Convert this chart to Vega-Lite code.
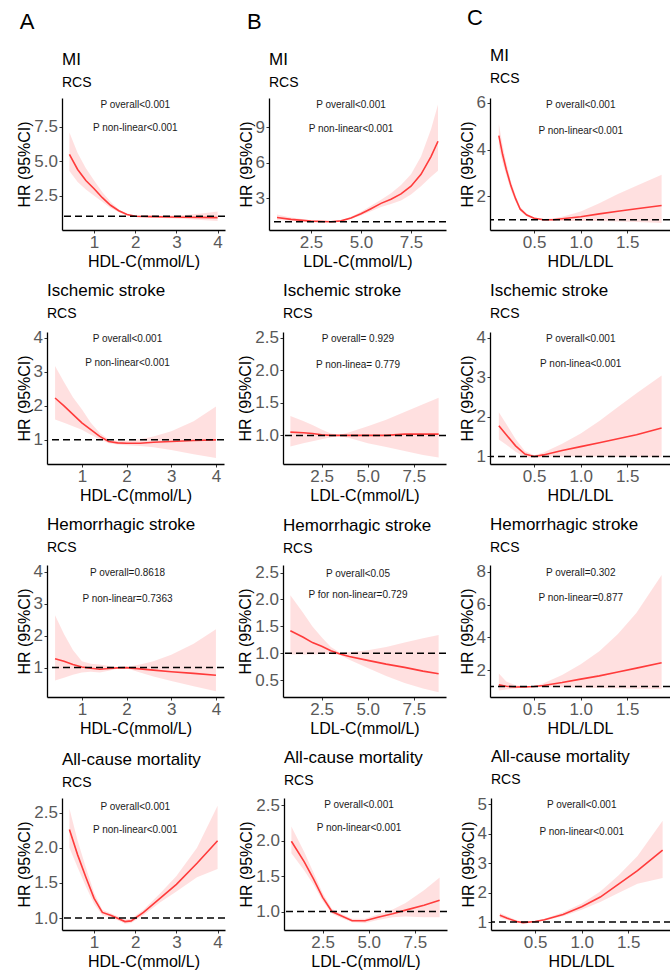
{
 "$schema": "https://vega.github.io/schema/vega-lite/v6.json",
 "background": "white",
 "padding": {"left": 9, "top": 6, "right": 0, "bottom": 0},
 "spacing": 11,
 "config": {
  "view": {"stroke": null},
  "font": "Liberation Sans",
  "axis": {"grid": false, "minExtent": 0, "domainColor": "black", "domainWidth": 1.3, "tickColor": "#333333", "tickSize": 3, "labelFontSize": 17, "labelColor": "#595959", "labelFlush": false, "labelOverlap": false, "labelBound": false, "labelPadding": 1.5, "titleFontSize": 16, "titleFontWeight": "normal", "titleColor": "black", "titlePadding": 3},
  "axisY": {"minExtent": 0, "titlePadding": 1},
  "title": {"anchor": "start", "frame": "group", "fontSize": 17, "fontWeight": "normal", "color": "black", "subtitleFontSize": 14, "subtitleColor": "black", "subtitlePadding": 7, "offset": 7},
  "area": {"color": "#FF0000", "opacity": 0.12},
  "line": {"color": "#FF3B3B", "strokeWidth": 1.6},
  "rule": {"color": "black", "strokeWidth": 1.5, "strokeDash": [7, 4]},
  "text": {"fontSize": 10, "color": "#1a1a1a", "align": "center", "baseline": "middle"}
 },
 "vconcat": [
  {
   "spacing": 0,
   "hconcat": [
    {"width": 1, "height": 1, "data": {"values": [{}]}, "mark": {"type": "point", "opacity": 0}, "encoding": {}},
    {
     "spacing": 12,
     "hconcat": [
      {
       "title": {"text": "A", "fontSize": 22, "frame": "bounds", "offset": 17, "dx": 3},
       "vconcat": [
        {
         "width": 163, "height": 132,
         "title": {"text": "MI", "subtitle": "RCS"},
         "data": {"values": [
          {"x":0.4,"hr":5.5,"lo":4.3,"hi":7.1},{"x":0.6,"hr":4.4,"lo":3.5,"hi":5.6},{"x":0.8,"hr":3.6,"lo":2.95,"hi":4.5},{"x":1.0,"hr":3.0,"lo":2.5,"hi":3.6},{"x":1.2,"hr":2.35,"lo":2.05,"hi":2.75},{"x":1.4,"hr":1.8,"lo":1.6,"hi":2.05},{"x":1.6,"hr":1.4,"lo":1.3,"hi":1.5},{"x":1.8,"hr":1.13,"lo":1.06,"hi":1.2},{"x":2.0,"hr":1.0,"lo":0.95,"hi":1.05},{"x":2.4,"hr":0.97,"lo":0.9,"hi":1.05},{"x":2.8,"hr":0.94,"lo":0.85,"hi":1.05},{"x":3.2,"hr":0.93,"lo":0.8,"hi":1.1},{"x":3.6,"hr":0.92,"lo":0.72,"hi":1.2},{"x":4.0,"hr":0.9,"lo":0.65,"hi":1.35}
         ]},
         "encoding": {"x": {"field": "x", "type": "quantitative", "scale": {"domain": [0.22, 4.18], "nice": false, "zero": false}, "axis": {"values": [1, 2, 3, 4], "format": "d", "tickCount": 20, "labelOverlap": false, "title": "HDL-C(mmol/L)"}}},
         "layer": [
          {"mark": "area", "encoding": {"y": {"field": "lo", "type": "quantitative", "title": "HR (95%CI)", "scale": {"domain": [0, 9.6], "nice": false, "zero": false}, "axis": {"values": [2.5, 5, 7.5], "tickCount": 20, "format": ".1f", "labelOverlap": false}}, "y2": {"field": "hi"}}},
          {"mark": "line", "encoding": {"y": {"field": "hr", "type": "quantitative", "title": "HR (95%CI)"}}},
          {"data": {"values": [{"ref": 1}]}, "mark": "rule", "encoding": {"x": null, "y": {"field": "ref", "type": "quantitative", "title": "HR (95%CI)"}}},
          {"data": {"values": [{"x": 2.0, "y": 9.11, "label": "P overall<0.001"}, {"x": 2.0, "y": 7.42, "label": "P non-linear<0.001"}]}, "mark": "text", "encoding": {"y": {"field": "y", "type": "quantitative", "title": "HR (95%CI)"}, "text": {"field": "label"}}}
         ]
        }
       ]
      },
      {
       "title": {"text": "B", "fontSize": 22, "frame": "bounds", "offset": 17, "dx": 9},
       "vconcat": [
        {
         "width": 177, "height": 132,
         "title": {"text": "MI", "subtitle": "RCS"},
         "data": {"values": [
          {"x":0.8,"hr":1.35,"lo":1.15,"hi":1.6},{"x":1.5,"hr":1.2,"lo":1.08,"hi":1.35},{"x":2.5,"hr":1.05,"lo":1.0,"hi":1.12},{"x":3.5,"hr":1.0,"lo":0.97,"hi":1.03},{"x":4.0,"hr":1.07,"lo":1.02,"hi":1.12},{"x":4.5,"hr":1.32,"lo":1.22,"hi":1.42},{"x":5.0,"hr":1.67,"lo":1.52,"hi":1.85},{"x":5.5,"hr":2.1,"lo":1.88,"hi":2.35},{"x":6.0,"hr":2.55,"lo":2.25,"hi":2.85},{"x":6.5,"hr":2.9,"lo":2.5,"hi":3.4},{"x":7.0,"hr":3.35,"lo":2.8,"hi":4.1},{"x":7.5,"hr":4.0,"lo":3.3,"hi":5.0},{"x":8.0,"hr":5.0,"lo":4.0,"hi":6.5},{"x":8.5,"hr":6.5,"lo":4.8,"hi":8.8},{"x":8.85,"hr":7.8,"lo":5.3,"hi":10.9}
         ]},
         "encoding": {"x": {"field": "x", "type": "quantitative", "scale": {"domain": [0.4, 9.25], "nice": false, "zero": false}, "axis": {"values": [2.5, 5, 7.5], "tickCount": 20, "format": ".1f", "labelOverlap": false, "title": "LDL-C(mmol/L)"}}},
         "layer": [
          {"mark": "area", "encoding": {"y": {"field": "lo", "type": "quantitative", "title": "HR (95%CI)", "scale": {"domain": [0.3, 11.45], "nice": false, "zero": false}, "axis": {"values": [3, 6, 9], "format": "d", "tickCount": 20, "labelOverlap": false}}, "y2": {"field": "hi"}}},
          {"mark": "line", "encoding": {"y": {"field": "hr", "type": "quantitative", "title": "HR (95%CI)"}}},
          {"data": {"values": [{"ref": 1}]}, "mark": "rule", "encoding": {"x": null, "y": {"field": "ref", "type": "quantitative", "title": "HR (95%CI)"}}},
          {"data": {"values": [{"x": 4.5, "y": 10.88, "label": "P overall<0.001"}, {"x": 4.5, "y": 8.86, "label": "P non-linear<0.001"}]}, "mark": "text", "encoding": {"y": {"field": "y", "type": "quantitative", "title": "HR (95%CI)"}, "text": {"field": "label"}}}
         ]
        }
       ]
      },
      {
       "title": {"text": "C", "fontSize": 22, "frame": "bounds", "offset": 17, "dx": 8},
       "vconcat": [
        {
         "width": 180, "height": 132,
         "title": {"text": "MI", "subtitle": "RCS"},
         "data": {"values": [
          {"x":0.12,"hr":4.6,"lo":4.15,"hi":5.1},{"x":0.16,"hr":3.8,"lo":3.45,"hi":4.2},{"x":0.2,"hr":3.15,"lo":2.9,"hi":3.45},{"x":0.25,"hr":2.45,"lo":2.25,"hi":2.65},{"x":0.3,"hr":1.9,"lo":1.78,"hi":2.05},{"x":0.35,"hr":1.45,"lo":1.37,"hi":1.55},{"x":0.42,"hr":1.2,"lo":1.14,"hi":1.26},{"x":0.5,"hr":1.06,"lo":1.02,"hi":1.1},{"x":0.6,"hr":1.0,"lo":0.97,"hi":1.03},{"x":0.7,"hr":1.0,"lo":0.96,"hi":1.05},{"x":0.8,"hr":1.04,"lo":0.95,"hi":1.13},{"x":1.0,"hr":1.13,"lo":0.95,"hi":1.35},{"x":1.2,"hr":1.25,"lo":0.94,"hi":1.7},{"x":1.4,"hr":1.36,"lo":0.92,"hi":2.1},{"x":1.6,"hr":1.47,"lo":0.9,"hi":2.45},{"x":1.87,"hr":1.61,"lo":0.86,"hi":2.93}
         ]},
         "encoding": {"x": {"field": "x", "type": "quantitative", "scale": {"domain": [0.025, 1.96], "nice": false, "zero": false}, "axis": {"values": [0.5, 1, 1.5], "tickCount": 20, "format": ".1f", "labelOverlap": false, "title": "HDL/LDL"}}},
         "layer": [
          {"mark": "area", "encoding": {"y": {"field": "lo", "type": "quantitative", "title": "HR (95%CI)", "scale": {"domain": [0.56, 6.21], "nice": false, "zero": false}, "axis": {"values": [2, 4, 6], "format": "d", "tickCount": 20, "labelOverlap": false}}, "y2": {"field": "hi"}}},
          {"mark": "line", "encoding": {"y": {"field": "hr", "type": "quantitative", "title": "HR (95%CI)"}}},
          {"data": {"values": [{"ref": 1}]}, "mark": "rule", "encoding": {"x": null, "y": {"field": "ref", "type": "quantitative", "title": "HR (95%CI)"}}},
          {"data": {"values": [{"x": 1.0, "y": 5.92, "label": "P overall<0.001"}, {"x": 1.0, "y": 4.81, "label": "P non-linear<0.001"}]}, "mark": "text", "encoding": {"y": {"field": "y", "type": "quantitative", "title": "HR (95%CI)"}, "text": {"field": "label"}}}
         ]
        }
       ]
      }
     ]
    }
   ]
  },
  {
   "spacing": 0,
   "hconcat": [
    {"width": 1, "height": 1, "data": {"values": [{}]}, "mark": {"type": "point", "opacity": 0}, "encoding": {}},
    {
     "spacing": 12,
     "hconcat": [
      {
       "width": 177, "height": 132,
       "title": {"text": "Ischemic stroke", "subtitle": "RCS"},
       "data": {"values": [
        {"x":0.4,"hr":2.23,"lo":1.6,"hi":3.17},{"x":0.6,"hr":2.0,"lo":1.5,"hi":2.7},{"x":0.8,"hr":1.75,"lo":1.4,"hi":2.25},{"x":1.0,"hr":1.5,"lo":1.3,"hi":1.9},{"x":1.2,"hr":1.3,"lo":1.15,"hi":1.5},{"x":1.4,"hr":1.1,"lo":1.02,"hi":1.2},{"x":1.6,"hr":0.95,"lo":0.9,"hi":1.02},{"x":1.8,"hr":0.91,"lo":0.86,"hi":0.97},{"x":2.0,"hr":0.9,"lo":0.84,"hi":0.98},{"x":2.3,"hr":0.9,"lo":0.82,"hi":1.02},{"x":2.6,"hr":0.93,"lo":0.78,"hi":1.1},{"x":3.0,"hr":0.95,"lo":0.7,"hi":1.25},{"x":3.5,"hr":0.98,"lo":0.58,"hi":1.55},{"x":4.0,"hr":1.0,"lo":0.47,"hi":1.98}
       ]},
       "encoding": {"x": {"field": "x", "type": "quantitative", "scale": {"domain": [0.22, 4.18], "nice": false, "zero": false}, "axis": {"values": [1, 2, 3, 4], "format": "d", "tickCount": 20, "labelOverlap": false, "title": "HDL-C(mmol/L)"}}},
       "layer": [
        {"mark": "area", "encoding": {"y": {"field": "lo", "type": "quantitative", "title": "HR (95%CI)", "scale": {"domain": [0.29, 4.17], "nice": false, "zero": false}, "axis": {"values": [1, 2, 3, 4], "format": "d", "tickCount": 20, "labelOverlap": false}}, "y2": {"field": "hi"}}},
        {"mark": "line", "encoding": {"y": {"field": "hr", "type": "quantitative", "title": "HR (95%CI)"}}},
        {"data": {"values": [{"ref": 1}]}, "mark": "rule", "encoding": {"x": null, "y": {"field": "ref", "type": "quantitative", "title": "HR (95%CI)"}}},
        {"data": {"values": [{"x": 2.02, "y": 3.95, "label": "P overall<0.001"}, {"x": 2.02, "y": 3.27, "label": "P non-linear<0.001"}]}, "mark": "text", "encoding": {"y": {"field": "y", "type": "quantitative", "title": "HR (95%CI)"}, "text": {"field": "label"}}}
       ]
      },
      {
       "width": 163, "height": 132,
       "title": {"text": "Ischemic stroke", "subtitle": "RCS"},
       "data": {"values": [
        {"x":0.8,"hr":1.05,"lo":0.83,"hi":1.3},{"x":1.5,"hr":1.04,"lo":0.88,"hi":1.22},{"x":2.0,"hr":1.03,"lo":0.91,"hi":1.16},{"x":2.5,"hr":1.01,"lo":0.94,"hi":1.09},{"x":3.0,"hr":1.0,"lo":0.97,"hi":1.03},{"x":3.5,"hr":1.0,"lo":0.99,"hi":1.01},{"x":4.0,"hr":1.0,"lo":0.96,"hi":1.05},{"x":5.0,"hr":1.0,"lo":0.88,"hi":1.14},{"x":6.0,"hr":1.0,"lo":0.82,"hi":1.24},{"x":7.0,"hr":1.02,"lo":0.76,"hi":1.36},{"x":8.0,"hr":1.02,"lo":0.7,"hi":1.48},{"x":8.85,"hr":1.02,"lo":0.66,"hi":1.58}
       ]},
       "encoding": {"x": {"field": "x", "type": "quantitative", "scale": {"domain": [0.4, 9.25], "nice": false, "zero": false}, "axis": {"values": [2.5, 5, 7.5], "tickCount": 20, "format": ".1f", "labelOverlap": false, "title": "LDL-C(mmol/L)"}}},
       "layer": [
        {"mark": "area", "encoding": {"y": {"field": "lo", "type": "quantitative", "title": "HR (95%CI)", "scale": {"domain": [0.56, 2.59], "nice": false, "zero": false}, "axis": {"values": [1, 1.5, 2, 2.5], "tickCount": 20, "format": ".1f", "labelOverlap": false}}, "y2": {"field": "hi"}}},
        {"mark": "line", "encoding": {"y": {"field": "hr", "type": "quantitative", "title": "HR (95%CI)"}}},
        {"data": {"values": [{"ref": 1}]}, "mark": "rule", "encoding": {"x": null, "y": {"field": "ref", "type": "quantitative", "title": "HR (95%CI)"}}},
        {"data": {"values": [{"x": 4.47, "y": 2.48, "label": "P overall= 0.929"}, {"x": 4.47, "y": 2.09, "label": "P non-linea= 0.779"}]}, "mark": "text", "encoding": {"y": {"field": "y", "type": "quantitative", "title": "HR (95%CI)"}, "text": {"field": "label"}}}
       ]
      },
      {
       "width": 180, "height": 132,
       "title": {"text": "Ischemic stroke", "subtitle": "RCS"},
       "data": {"values": [
        {"x":0.12,"hr":1.78,"lo":1.43,"hi":2.12},{"x":0.2,"hr":1.55,"lo":1.3,"hi":1.82},{"x":0.3,"hr":1.27,"lo":1.12,"hi":1.44},{"x":0.4,"hr":1.06,"lo":0.99,"hi":1.14},{"x":0.5,"hr":1.0,"lo":0.97,"hi":1.03},{"x":0.6,"hr":1.04,"lo":0.99,"hi":1.1},{"x":0.8,"hr":1.15,"lo":1.0,"hi":1.32},{"x":1.0,"hr":1.25,"lo":1.0,"hi":1.58},{"x":1.2,"hr":1.35,"lo":1.0,"hi":1.9},{"x":1.4,"hr":1.45,"lo":0.99,"hi":2.25},{"x":1.6,"hr":1.55,"lo":0.99,"hi":2.6},{"x":1.87,"hr":1.72,"lo":0.98,"hi":3.05}
       ]},
       "encoding": {"x": {"field": "x", "type": "quantitative", "scale": {"domain": [0.025, 1.96], "nice": false, "zero": false}, "axis": {"values": [0.5, 1, 1.5], "tickCount": 20, "format": ".1f", "labelOverlap": false, "title": "HDL/LDL"}}},
       "layer": [
        {"mark": "area", "encoding": {"y": {"field": "lo", "type": "quantitative", "title": "HR (95%CI)", "scale": {"domain": [0.81, 4.15], "nice": false, "zero": false}, "axis": {"values": [1, 2, 3, 4], "format": "d", "tickCount": 20, "labelOverlap": false}}, "y2": {"field": "hi"}}},
        {"mark": "line", "encoding": {"y": {"field": "hr", "type": "quantitative", "title": "HR (95%CI)"}}},
        {"data": {"values": [{"ref": 1}]}, "mark": "rule", "encoding": {"x": null, "y": {"field": "ref", "type": "quantitative", "title": "HR (95%CI)"}}},
        {"data": {"values": [{"x": 1.0, "y": 3.98, "label": "P overall<0.001"}, {"x": 1.0, "y": 3.35, "label": "P non-linea<0.001"}]}, "mark": "text", "encoding": {"y": {"field": "y", "type": "quantitative", "title": "HR (95%CI)"}, "text": {"field": "label"}}}
       ]
      }
     ]
    }
   ]
  },
  {
   "spacing": 0,
   "hconcat": [
    {"width": 1, "height": 1, "data": {"values": [{}]}, "mark": {"type": "point", "opacity": 0}, "encoding": {}},
    {
     "spacing": 12,
     "hconcat": [
      {
       "width": 177, "height": 132,
       "title": {"text": "Hemorrhagic stroke", "subtitle": "RCS"},
       "data": {"values": [
        {"x":0.4,"hr":1.28,"lo":0.6,"hi":2.64},{"x":0.6,"hr":1.2,"lo":0.68,"hi":2.05},{"x":0.8,"hr":1.1,"lo":0.78,"hi":1.55},{"x":1.0,"hr":1.02,"lo":0.85,"hi":1.2},{"x":1.2,"hr":0.98,"lo":0.87,"hi":1.12},{"x":1.4,"hr":0.95,"lo":0.85,"hi":1.1},{"x":1.6,"hr":0.97,"lo":0.9,"hi":1.05},{"x":1.8,"hr":0.99,"lo":0.96,"hi":1.02},{"x":2.0,"hr":1.0,"lo":0.98,"hi":1.02},{"x":2.3,"hr":0.96,"lo":0.85,"hi":1.1},{"x":2.6,"hr":0.92,"lo":0.72,"hi":1.2},{"x":3.0,"hr":0.87,"lo":0.58,"hi":1.4},{"x":3.5,"hr":0.82,"lo":0.42,"hi":1.75},{"x":4.0,"hr":0.76,"lo":0.26,"hi":2.2}
       ]},
       "encoding": {"x": {"field": "x", "type": "quantitative", "scale": {"domain": [0.22, 4.18], "nice": false, "zero": false}, "axis": {"values": [1, 2, 3, 4], "format": "d", "tickCount": 20, "labelOverlap": false, "title": "HDL-C(mmol/L)"}}},
       "layer": [
        {"mark": "area", "encoding": {"y": {"field": "lo", "type": "quantitative", "title": "HR (95%CI)", "scale": {"domain": [0.08, 4.21], "nice": false, "zero": false}, "axis": {"values": [1, 2, 3, 4], "format": "d", "tickCount": 20, "labelOverlap": false}}, "y2": {"field": "hi"}}},
        {"mark": "line", "encoding": {"y": {"field": "hr", "type": "quantitative", "title": "HR (95%CI)"}}},
        {"data": {"values": [{"ref": 1}]}, "mark": "rule", "encoding": {"x": null, "y": {"field": "ref", "type": "quantitative", "title": "HR (95%CI)"}}},
        {"data": {"values": [{"x": 2.02, "y": 3.95, "label": "P overall=0.8618"}, {"x": 2.02, "y": 3.15, "label": "P non-linear=0.7363"}]}, "mark": "text", "encoding": {"y": {"field": "y", "type": "quantitative", "title": "HR (95%CI)"}, "text": {"field": "label"}}}
       ]
      },
      {
       "width": 163, "height": 132,
       "title": {"text": "Hemorrhagic stroke", "subtitle": "RCS"},
       "data": {"values": [
        {"x":0.8,"hr":1.42,"lo":0.98,"hi":2.08},{"x":1.5,"hr":1.3,"lo":0.98,"hi":1.75},{"x":2.0,"hr":1.2,"lo":0.98,"hi":1.5},{"x":2.5,"hr":1.13,"lo":0.99,"hi":1.3},{"x":3.0,"hr":1.05,"lo":0.99,"hi":1.12},{"x":3.5,"hr":0.99,"lo":0.97,"hi":1.01},{"x":4.0,"hr":0.94,"lo":0.88,"hi":1.02},{"x":5.0,"hr":0.87,"lo":0.73,"hi":1.06},{"x":6.0,"hr":0.8,"lo":0.58,"hi":1.12},{"x":7.0,"hr":0.74,"lo":0.45,"hi":1.2},{"x":8.0,"hr":0.67,"lo":0.35,"hi":1.28},{"x":8.85,"hr":0.62,"lo":0.28,"hi":1.34}
       ]},
       "encoding": {"x": {"field": "x", "type": "quantitative", "scale": {"domain": [0.4, 9.25], "nice": false, "zero": false}, "axis": {"values": [2.5, 5, 7.5], "tickCount": 20, "format": ".1f", "labelOverlap": false, "title": "LDL-C(mmol/L)"}}},
       "layer": [
        {"mark": "area", "encoding": {"y": {"field": "lo", "type": "quantitative", "title": "HR (95%CI)", "scale": {"domain": [0.19, 2.64], "nice": false, "zero": false}, "axis": {"values": [0.5, 1, 1.5, 2, 2.5], "tickCount": 20, "format": ".1f", "labelOverlap": false}}, "y2": {"field": "hi"}}},
        {"mark": "line", "encoding": {"y": {"field": "hr", "type": "quantitative", "title": "HR (95%CI)"}}},
        {"data": {"values": [{"ref": 1}]}, "mark": "rule", "encoding": {"x": null, "y": {"field": "ref", "type": "quantitative", "title": "HR (95%CI)"}}},
        {"data": {"values": [{"x": 4.47, "y": 2.48, "label": "P overall<0.05"}, {"x": 4.47, "y": 2.09, "label": "P for non-linear=0.729"}]}, "mark": "text", "encoding": {"y": {"field": "y", "type": "quantitative", "title": "HR (95%CI)"}, "text": {"field": "label"}}}
       ]
      },
      {
       "width": 180, "height": 132,
       "title": {"text": "Hemorrhagic stroke", "subtitle": "RCS"},
       "data": {"values": [
        {"x":0.12,"hr":1.1,"lo":0.75,"hi":1.8},{"x":0.2,"hr":1.02,"lo":0.82,"hi":1.3},{"x":0.3,"hr":0.97,"lo":0.88,"hi":1.08},{"x":0.4,"hr":0.98,"lo":0.95,"hi":1.02},{"x":0.5,"hr":1.0,"lo":0.98,"hi":1.02},{"x":0.6,"hr":1.06,"lo":0.97,"hi":1.2},{"x":0.8,"hr":1.24,"lo":0.95,"hi":1.7},{"x":1.0,"hr":1.45,"lo":0.93,"hi":2.35},{"x":1.2,"hr":1.65,"lo":0.91,"hi":3.15},{"x":1.4,"hr":1.88,"lo":0.89,"hi":4.2},{"x":1.6,"hr":2.12,"lo":0.87,"hi":5.5},{"x":1.87,"hr":2.45,"lo":0.85,"hi":7.8}
       ]},
       "encoding": {"x": {"field": "x", "type": "quantitative", "scale": {"domain": [0.025, 1.96], "nice": false, "zero": false}, "axis": {"values": [0.5, 1, 1.5], "tickCount": 20, "format": ".1f", "labelOverlap": false, "title": "HDL/LDL"}}},
       "layer": [
        {"mark": "area", "encoding": {"y": {"field": "lo", "type": "quantitative", "title": "HR (95%CI)", "scale": {"domain": [0.36, 8.41], "nice": false, "zero": false}, "axis": {"values": [2, 4, 6, 8], "format": "d", "tickCount": 20, "labelOverlap": false}}, "y2": {"field": "hi"}}},
        {"mark": "line", "encoding": {"y": {"field": "hr", "type": "quantitative", "title": "HR (95%CI)"}}},
        {"data": {"values": [{"ref": 1}]}, "mark": "rule", "encoding": {"x": null, "y": {"field": "ref", "type": "quantitative", "title": "HR (95%CI)"}}},
        {"data": {"values": [{"x": 1.0, "y": 7.94, "label": "P overall=0.302"}, {"x": 1.0, "y": 6.37, "label": "P non-linear=0.877"}]}, "mark": "text", "encoding": {"y": {"field": "y", "type": "quantitative", "title": "HR (95%CI)"}, "text": {"field": "label"}}}
       ]
      }
     ]
    }
   ]
  },
  {
   "spacing": 0,
   "hconcat": [
    {"width": 1, "height": 1, "data": {"values": [{}]}, "mark": {"type": "point", "opacity": 0}, "encoding": {}},
    {
     "spacing": 12,
     "hconcat": [
      {
       "width": 163, "height": 132,
       "title": {"text": "All-cause mortality", "subtitle": "RCS"},
       "data": {"values": [
        {"x":0.4,"hr":2.26,"lo":2.0,"hi":2.56},{"x":0.6,"hr":1.9,"lo":1.72,"hi":2.1},{"x":0.8,"hr":1.58,"lo":1.45,"hi":1.72},{"x":1.0,"hr":1.28,"lo":1.2,"hi":1.36},{"x":1.2,"hr":1.08,"lo":1.04,"hi":1.12},{"x":1.4,"hr":1.04,"lo":1.01,"hi":1.07},{"x":1.6,"hr":0.99,"lo":0.96,"hi":1.02},{"x":1.75,"hr":0.95,"lo":0.92,"hi":0.98},{"x":1.9,"hr":0.96,"lo":0.93,"hi":0.99},{"x":2.2,"hr":1.08,"lo":1.04,"hi":1.12},{"x":2.6,"hr":1.28,"lo":1.22,"hi":1.35},{"x":3.0,"hr":1.48,"lo":1.38,"hi":1.6},{"x":3.5,"hr":1.78,"lo":1.58,"hi":2.0},{"x":4.0,"hr":2.1,"lo":1.7,"hi":2.6}
       ]},
       "encoding": {"x": {"field": "x", "type": "quantitative", "scale": {"domain": [0.22, 4.18], "nice": false, "zero": false}, "axis": {"values": [1, 2, 3, 4], "format": "d", "tickCount": 20, "labelOverlap": false, "title": "HDL-C(mmol/L)"}}},
       "layer": [
        {"mark": "area", "encoding": {"y": {"field": "lo", "type": "quantitative", "title": "HR (95%CI)", "scale": {"domain": [0.83, 2.71], "nice": false, "zero": false}, "axis": {"values": [1, 1.5, 2, 2.5], "tickCount": 20, "format": ".1f", "labelOverlap": false}}, "y2": {"field": "hi"}}},
        {"mark": "line", "encoding": {"y": {"field": "hr", "type": "quantitative", "title": "HR (95%CI)"}}},
        {"data": {"values": [{"ref": 1}]}, "mark": "rule", "encoding": {"x": null, "y": {"field": "ref", "type": "quantitative", "title": "HR (95%CI)"}}},
        {"data": {"values": [{"x": 2.0, "y": 2.58, "label": "P overall<0.001"}, {"x": 2.0, "y": 2.26, "label": "P non-linear<0.001"}]}, "mark": "text", "encoding": {"y": {"field": "y", "type": "quantitative", "title": "HR (95%CI)"}, "text": {"field": "label"}}}
       ]
      },
      {
       "width": 163, "height": 132,
       "title": {"text": "All-cause mortality", "subtitle": "RCS"},
       "data": {"values": [
        {"x":0.8,"hr":1.99,"lo":1.82,"hi":2.2},{"x":1.5,"hr":1.7,"lo":1.58,"hi":1.84},{"x":2.0,"hr":1.46,"lo":1.38,"hi":1.55},{"x":2.5,"hr":1.2,"lo":1.15,"hi":1.26},{"x":3.0,"hr":1.0,"lo":0.97,"hi":1.04},{"x":3.5,"hr":0.94,"lo":0.91,"hi":0.97},{"x":4.1,"hr":0.87,"lo":0.85,"hi":0.9},{"x":4.8,"hr":0.87,"lo":0.84,"hi":0.9},{"x":5.5,"hr":0.92,"lo":0.88,"hi":0.96},{"x":6.3,"hr":0.97,"lo":0.92,"hi":1.03},{"x":7.0,"hr":1.02,"lo":0.93,"hi":1.12},{"x":8.0,"hr":1.09,"lo":0.92,"hi":1.3},{"x":8.85,"hr":1.16,"lo":0.92,"hi":1.48}
       ]},
       "encoding": {"x": {"field": "x", "type": "quantitative", "scale": {"domain": [0.4, 9.25], "nice": false, "zero": false}, "axis": {"values": [2.5, 5, 7.5], "tickCount": 20, "format": ".1f", "labelOverlap": false, "title": "LDL-C(mmol/L)"}}},
       "layer": [
        {"mark": "area", "encoding": {"y": {"field": "lo", "type": "quantitative", "title": "HR (95%CI)", "scale": {"domain": [0.74, 2.6], "nice": false, "zero": false}, "axis": {"values": [1, 1.5, 2, 2.5], "tickCount": 20, "format": ".1f", "labelOverlap": false}}, "y2": {"field": "hi"}}},
        {"mark": "line", "encoding": {"y": {"field": "hr", "type": "quantitative", "title": "HR (95%CI)"}}},
        {"data": {"values": [{"ref": 1}]}, "mark": "rule", "encoding": {"x": null, "y": {"field": "ref", "type": "quantitative", "title": "HR (95%CI)"}}},
        {"data": {"values": [{"x": 4.47, "y": 2.5, "label": "P overall<0.001"}, {"x": 4.47, "y": 2.18, "label": "P non-linear<0.001"}]}, "mark": "text", "encoding": {"y": {"field": "y", "type": "quantitative", "title": "HR (95%CI)"}, "text": {"field": "label"}}}
       ]
      },
      {
       "width": 180, "height": 132,
       "title": {"text": "All-cause mortality", "subtitle": "RCS"},
       "data": {"values": [
        {"x":0.12,"hr":1.23,"lo":1.15,"hi":1.31},{"x":0.2,"hr":1.13,"lo":1.07,"hi":1.2},{"x":0.3,"hr":1.02,"lo":0.98,"hi":1.06},{"x":0.37,"hr":0.98,"lo":0.95,"hi":1.01},{"x":0.5,"hr":1.02,"lo":1.0,"hi":1.04},{"x":0.6,"hr":1.08,"lo":1.05,"hi":1.11},{"x":0.8,"hr":1.26,"lo":1.2,"hi":1.33},{"x":1.0,"hr":1.52,"lo":1.42,"hi":1.63},{"x":1.2,"hr":1.85,"lo":1.68,"hi":2.04},{"x":1.4,"hr":2.3,"lo":2.0,"hi":2.6},{"x":1.6,"hr":2.75,"lo":2.3,"hi":3.25},{"x":1.87,"hr":3.45,"lo":2.5,"hi":4.45}
       ]},
       "encoding": {"x": {"field": "x", "type": "quantitative", "scale": {"domain": [0.025, 1.96], "nice": false, "zero": false}, "axis": {"values": [0.5, 1, 1.5], "tickCount": 20, "format": ".1f", "labelOverlap": false, "title": "HDL/LDL"}}},
       "layer": [
        {"mark": "area", "encoding": {"y": {"field": "lo", "type": "quantitative", "title": "HR (95%CI)", "scale": {"domain": [0.73, 5.22], "nice": false, "zero": false}, "axis": {"values": [1, 2, 3, 4, 5], "format": "d", "tickCount": 20, "labelOverlap": false}}, "y2": {"field": "hi"}}},
        {"mark": "line", "encoding": {"y": {"field": "hr", "type": "quantitative", "title": "HR (95%CI)"}}},
        {"data": {"values": [{"ref": 1}]}, "mark": "rule", "encoding": {"x": null, "y": {"field": "ref", "type": "quantitative", "title": "HR (95%CI)"}}},
        {"data": {"values": [{"x": 1.0, "y": 4.97, "label": "P overall<0.001"}, {"x": 1.0, "y": 4.06, "label": "P non-linear<0.001"}]}, "mark": "text", "encoding": {"y": {"field": "y", "type": "quantitative", "title": "HR (95%CI)"}, "text": {"field": "label"}}}
       ]
      }
     ]
    }
   ]
  }
 ]
}
